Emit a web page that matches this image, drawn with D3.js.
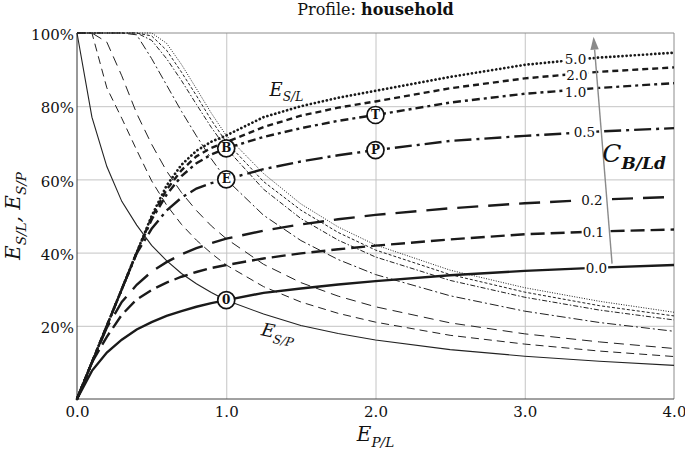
<!DOCTYPE html>
<html>
<head>
<meta charset="utf-8">
<script src="https://cdn.jsdelivr.net/npm/d3@7"></script>
<style>
  body { margin: 0; background: #fff; }
  svg { display: block; font-family: "DejaVu Serif", serif; }
</style>
</head>
<body>
<svg width="685" height="455"></svg>
<script>

// E_P/L sample points
var ratioX = [0, 0.1, 0.2, 0.3, 0.4, 0.5, 0.6, 0.7, 0.8, 0.9, 1.0, 1.25, 1.5, 1.75, 2.0, 2.5, 3.0, 3.5, 4.0];

// E_S/L (%) per battery size C_B/Ld
var sl00 = [0, 7.7, 12.7, 16.2, 19.0, 21.0, 22.7, 24.0, 25.2, 26.2, 27.0, 29.0, 30.2, 31.3, 32.2, 33.8, 35.0, 35.9, 36.6];
var sl01 = [0, 10, 17.0, 23.0, 27.2, 29.8, 31.8, 33.4, 34.7, 35.8, 36.6, 38.4, 39.8, 40.9, 41.9, 43.6, 45.0, 45.8, 46.3];
var sl02 = [0, 10, 19.5, 26.5, 31.2, 34.8, 37.4, 39.5, 41.2, 42.6, 43.8, 46.0, 47.7, 49.1, 50.3, 52.1, 53.5, 54.5, 55.2];
var sl05 = [0, 10, 20, 30, 39.8, 46.5, 51.5, 55.0, 57.5, 59.0, 60.0, 62.8, 64.9, 66.6, 68.0, 70.5, 71.9, 73.1, 74.0];
var sl10 = [0, 10, 20, 30, 40, 49.0, 55.8, 60.9, 64.4, 66.8, 68.5, 71.6, 74.0, 76.0, 77.6, 81.0, 83.4, 85.0, 86.3];
var sl20 = [0, 10, 20, 30, 40, 49.6, 57.2, 62.5, 66.3, 68.6, 70.2, 74.3, 77.4, 79.6, 81.3, 84.9, 87.6, 89.4, 90.6];
var sl50 = [0, 10, 20, 30, 40, 50.0, 58.3, 64.0, 67.8, 70.3, 72.0, 77.0, 80.0, 82.3, 84.2, 88.0, 91.3, 93.3, 94.6];

// E_S/P (%) per battery size C_B/Ld
var sp00 = [100, 77.0, 63.5, 54.0, 47.5, 42.0, 37.8, 34.3, 31.5, 29.1, 27.0, 23.2, 20.1, 17.9, 16.1, 13.5, 11.7, 10.3, 9.2];
var sp01 = [100, 100, 85.0, 76.7, 68.0, 59.6, 53.0, 47.7, 43.4, 39.8, 36.6, 30.7, 26.5, 23.4, 21.0, 17.4, 15.0, 13.1, 11.6];
var sp02 = [100, 100, 97.5, 88.3, 78.0, 69.6, 62.3, 56.4, 51.5, 47.3, 43.8, 36.8, 31.8, 28.1, 25.2, 20.8, 17.8, 15.6, 13.8];
var sp05 = [100, 100, 100, 100, 99.5, 93.0, 85.8, 78.6, 71.9, 65.6, 60.0, 50.2, 43.3, 38.1, 34.0, 28.2, 24.0, 20.9, 18.5];
var sp10 = [100, 100, 100, 100, 100, 98.0, 93.0, 87.0, 80.5, 74.2, 68.5, 57.3, 49.3, 43.4, 38.8, 32.4, 27.8, 24.3, 21.6];
var sp20 = [100, 100, 100, 100, 100, 99.2, 95.3, 89.3, 82.9, 76.2, 70.2, 59.4, 51.6, 45.5, 40.7, 34.0, 29.2, 25.5, 22.7];
var sp50 = [100, 100, 100, 100, 100, 100, 97.2, 91.4, 84.8, 78.1, 72.0, 61.6, 53.3, 47.0, 42.1, 35.2, 30.4, 26.7, 23.7];

var cLabels = ["0.0", "0.1", "0.2", "0.5", "1.0", "2.0", "5.0"];

// marked points
var markNames = ["0", "E", "B", "P", "T"];
var markX = [1, 1, 1, 2, 2];
var markY = [27.0, 60.0, 68.5, 68.0, 77.6];

var xTicks = [0, 1, 2, 3, 4],
    yTicks = [20, 40, 60, 80, 100];


var svg = d3.select("svg"),
    margin = {top: 33, right: 11, bottom: 56, left: 77},
    width = +svg.attr("width") - margin.left - margin.right,
    height = +svg.attr("height") - margin.top - margin.bottom;

var x = d3.scaleLinear().domain([0, 4]).range([0, width]),
    y = d3.scaleLinear().domain([0, 100]).range([height, 0]);

var slSeries = [sl00, sl01, sl02, sl05, sl10, sl20, sl50],
    spSeries = [sp00, sp01, sp02, sp05, sp10, sp20, sp50];

// line looks, one per battery size
var thickDash = ["none", "14,6", "21,10", "17,5,3,5", "8,4,3,4", "6,4", "0.1,4"],
    thinDash = ["none", "8,5", "10,6", "9,3,2,3", "5,2,1.5,2", "3,2", "1,1.5"];

var g = svg.append("g")
    .attr("transform", "translate(" + margin.left + "," + margin.top + ")");

// grid
g.append("g")
    .attr("class", "grid")
    .call(d3.axisLeft(y).tickValues([20, 40, 60, 80]).tickSize(-width).tickFormat(""));
g.append("g")
    .attr("class", "grid")
    .attr("transform", "translate(0," + height + ")")
    .call(d3.axisBottom(x).tickValues([1, 2, 3]).tickSize(-height).tickFormat(""));
g.selectAll(".grid .domain").remove();
g.selectAll(".grid line").attr("stroke", "#c4c4c4").attr("stroke-width", 1);

// frame
g.append("line").attr("x1", 0).attr("x2", width).attr("y1", 0).attr("y2", 0)
    .attr("stroke", "#8c8c8c");
g.append("line").attr("x1", width).attr("x2", width).attr("y1", 0).attr("y2", height)
    .attr("stroke", "#8c8c8c");
g.append("line").attr("x1", 0).attr("x2", 0).attr("y1", 0).attr("y2", height)
    .attr("stroke", "#333");
g.append("line").attr("x1", 0).attr("x2", width).attr("y1", height).attr("y2", height)
    .attr("stroke", "#444");

// tick labels
var yAxis = g.append("g")
    .call(d3.axisLeft(y).tickValues(yTicks).tickSize(0).tickPadding(3)
        .tickFormat(function(d) { return d + "%"; }));
var xAxis = g.append("g")
    .attr("transform", "translate(0," + height + ")")
    .call(d3.axisBottom(x).tickValues(xTicks).tickSize(0).tickPadding(7)
        .tickFormat(d3.format(".1f")));
[yAxis, xAxis].forEach(function(a) {
    a.select(".domain").remove();
    a.selectAll("text")
        .attr("font-family", "DejaVu Serif, serif")
        .attr("font-size", 15)
        .attr("fill", "#111");
});
yAxis.selectAll("text").attr("dy", "0.45em");

var line = d3.line()
    .x(function(d, i) { return x(ratioX[i]); })
    .y(function(d) { return y(d); });

// E_S/P (thin)
spSeries.forEach(function(s, k) {
    g.append("path")
        .datum(s)
        .attr("fill", "none")
        .attr("stroke", "#222")
        .attr("stroke-width", k === 0 ? 1.1 : 1)
        .attr("stroke-dasharray", thinDash[k])
        .attr("d", line);
});

// E_S/L (thick)
slSeries.forEach(function(s, k) {
    g.append("path")
        .datum(s)
        .attr("fill", "none")
        .attr("stroke", "#1a1a1a")
        .attr("stroke-width", k === 6 ? 2.7 : 2.4)
        .attr("stroke-linecap", k === 6 ? "round" : "butt")
        .attr("stroke-dasharray", thickDash[k])
        .attr("d", line);
});

// value of a series between sample points
function valueAt(arr, xv) {
    var i = d3.bisectLeft(ratioX, xv);
    var t = (xv - ratioX[i - 1]) / (ratioX[i] - ratioX[i - 1]);
    return arr[i - 1] + t * (arr[i] - arr[i - 1]);
}

// battery size arrow
var a0 = [x(3.585), y(37.0)], a1 = [x(3.461), y(99.0)];
var ang = Math.atan2(a1[1] - a0[1], a1[0] - a0[0]);
var headLen = 13, headW = 4.2;
var hb = [a1[0] - headLen * Math.cos(ang), a1[1] - headLen * Math.sin(ang)];
g.append("line")
    .attr("x1", a0[0]).attr("y1", a0[1]).attr("x2", hb[0]).attr("y2", hb[1])
    .attr("stroke", "#8a8a8a").attr("stroke-width", 1.4);
g.append("path")
    .attr("d", "M" + a1[0] + "," + a1[1] +
        "L" + (hb[0] + headW * Math.sin(ang)) + "," + (hb[1] - headW * Math.cos(ang)) +
        "L" + (hb[0] - headW * Math.sin(ang)) + "," + (hb[1] + headW * Math.cos(ang)) + "Z")
    .attr("fill", "#8a8a8a");

// battery size labels on the E_S/L curves
var labelAt = [3.48, 3.46, 3.45, 3.40, 3.34, 3.35, 3.34],
    labelNudge = [0, 0, 0, 0, 2.5, 1, -1];
cLabels.forEach(function(lbl, k) {
    var lx = x(labelAt[k]), ly = y(valueAt(slSeries[k], labelAt[k])) + labelNudge[k];
    var bg = g.append("rect").attr("fill", "#fff");
    var t = g.append("text")
        .attr("x", lx).attr("y", ly)
        .attr("text-anchor", "middle")
        .attr("dominant-baseline", "central")
        .attr("font-family", "DejaVu Serif, serif")
        .attr("font-size", 13.5)
        .attr("fill", "#111")
        .text(lbl);
    var b = t.node().getBBox();
    bg.attr("x", b.x - 1).attr("y", ly - 5).attr("width", b.width + 2).attr("height", 10);
});

// italic symbol with subscript
function sym(sel, parts, size) {
    var t = sel.append("text")
        .attr("font-family", "DejaVu Serif, serif")
        .attr("font-size", size)
        .attr("font-style", "italic")
        .attr("fill", "#111");
    var shift = 0;
    parts.forEach(function(p) {
        var s = t.append("tspan").text(p[0]);
        var target = p[1] ? size * 0.28 : 0;
        s.attr("dy", target - shift);
        shift = target;
        if (p[1]) s.attr("font-size", size * 0.68);
        if (p[2]) s.attr("font-weight", "bold");
    });
    return t;
}

sym(g, [["E"], ["S/L", 1]], 18)
    .attr("x", x(1.29)).attr("y", y(82.8));

sym(g, [["E"], ["S/P", 1]], 18)
    .attr("text-anchor", "middle")
    .attr("transform", "translate(" + x(1.34) + "," + y(16.5) + ") rotate(12)");

sym(g, [["C"], ["B/Ld", 1, 1]], 25)
    .attr("x", x(3.52)).attr("y", y(64.8));

// axis titles
sym(svg, [["E"], ["S/L", 1], [", "], ["E"], ["S/P", 1]], 20)
    .attr("text-anchor", "middle")
    .attr("transform", "translate(20," + (margin.top + height / 2) + ") rotate(-90)");

sym(svg, [["E"], ["P/L", 1]], 20)
    .attr("text-anchor", "middle")
    .attr("x", margin.left + width / 2)
    .attr("y", 441);

// title
var title = svg.append("text")
    .attr("x", margin.left + width / 2)
    .attr("y", 15)
    .attr("text-anchor", "middle")
    .attr("font-family", "DejaVu Serif, serif")
    .attr("font-size", 16)
    .attr("fill", "#111");
title.append("tspan").text("Profile: ");
title.append("tspan").attr("font-weight", "bold").text("household");

// marked points
var marks = g.selectAll("g.mark")
    .data(markNames)
    .enter().append("g")
    .attr("class", "mark")
    .attr("transform", function(d, i) {
        return "translate(" + x(markX[i]) + "," + y(markY[i]) + ")";
    });
marks.append("circle")
    .attr("r", 8.5)
    .attr("fill", "#fff")
    .attr("stroke", "#111")
    .attr("stroke-width", 1.7);
marks.append("text")
    .attr("text-anchor", "middle")
    .attr("dominant-baseline", "central")
    .attr("font-family", "DejaVu Serif, serif")
    .attr("font-size", 12)
    .attr("font-weight", "bold")
    .attr("fill", "#111")
    .text(function(d) { return d; });

</script>
</body>
</html>
